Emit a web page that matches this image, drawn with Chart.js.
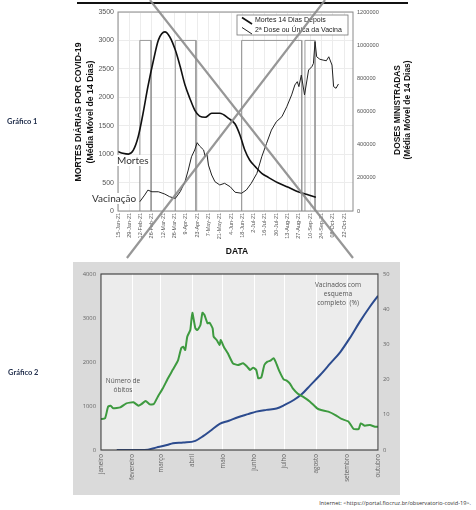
<!DOCTYPE html>
<html>
<head>
<meta charset="utf-8">
<script src="https://cdn.jsdelivr.net/npm/chart.js@4.4.1/dist/chart.umd.min.js"></script>
<style>
  body { margin: 0; background: #fff; width: 476px; height: 510px; position: relative; overflow: hidden; font-family: "Liberation Sans", Arial, sans-serif; }
  canvas { position: absolute; }
  .t { position: absolute; white-space: nowrap; }
  .rot { position: absolute; text-align: center; transform: rotate(-90deg); font-weight: bold; color: #111; }
  #topline { position: absolute; left: 77px; top: 2px; width: 331px; height: 1.5px; background: #111; }
  #panel2 { position: absolute; left: 73px; top: 262px; width: 327px; height: 233px; background: #dadada; }
  .graf { font-family: Lato, "Noto Sans", sans-serif; font-weight: bold; font-size: 7.5px; color: #1c2a48; }
  .ann { font-family: Lato, "Noto Sans", sans-serif; font-size: 10px; color: #333; background: #fff; line-height: 11px; padding: 0 1px; }
  .ann2 { font-family: "Open Sans", sans-serif; color: #555; text-align: center; }
</style>
</head>
<body>
<div id="topline"></div>
<canvas id="c1" width="476" height="262" style="left:0;top:0"></canvas>
<div class="rot" style="left:-6px;top:100px;width:180px;height:24px;font-size:8.7px;line-height:12px">MORTES DIÁRIAS POR COVID-19<br>(Média Móvel de 14 Dias)</div>
<div class="rot" style="left:337px;top:100px;width:130px;height:20px;font-size:8.4px;line-height:10px">DOSES MINISTRADAS<br>(Média Móvel de 14 Dias)</div>
<div class="t" style="left:217px;top:246px;width:40px;text-align:center;font-weight:bold;font-size:8.5px;color:#111">DATA</div>
<div class="t ann" style="left:116px;top:155px">Mortes</div>
<div class="t ann" style="left:91px;top:193px">Vacinação</div>
<div class="t graf" style="left:7px;top:117px">Gráfico 1</div>

<div id="panel2"><canvas id="c2" width="327" height="233" style="left:0;top:0"></canvas></div>
<div class="t ann2" style="left:102px;top:377px;width:42px;font-size:6.5px;line-height:8.5px">Número de<br>óbitos</div>
<div class="t ann2" style="left:308px;top:281px;width:60px;font-size:6.6px;line-height:8.8px">Vacinados com<br>esquema<br>completo&nbsp; (%)</div>
<div class="t graf" style="left:8px;top:368px">Gráfico 2</div>
<div class="t" style="right:5px;top:499px;font-family:'Open Sans',sans-serif;font-size:5.6px;color:#333">Internet: &lt;https://portal.fiocruz.br/observatorio-covid-19&gt;.</div>

<script>
// ---------- Gráfico 1 (days counted from 15-Jan-21) ----------
const dateLabels = ['15-Jan-21','29-Jan-21','12-Feb-21','26-Feb-21','12-Mar-21','26-Mar-21','9-Apr-21',
  '23-Apr-21','7-May-21','21-May-21','4-Jun-21','18-Jun-21','2-Jul-21','16-Jul-21','30-Jul-21',
  '13-Aug-21','27-Aug-21','10-Sep-21','24-Sep-21','08-Oct-21','22-Oct-21'];

const deathDays = [0,6,13,19,25,31,37,44,50,58,64,71,77,83,89,95,101,108,116,126,137,145,151,157,163,170,178,186,198,211,223,236,245];
const deathVals = [1045,1015,1000,1070,1305,1715,2185,2655,3005,3150,3065,2830,2540,2215,1980,1775,1670,1648,1718,1718,1628,1530,1337,1073,897,780,663,593,498,417,340,281,241];

const vacDays = [27,33,37,42,50,58,64,71,77,83,87,91,95,98,101,106,108,110,112,116,120,126,132,139,145,153,159,165,172,178,184,190,196,203,209,215,219,222,224,227,231,234,236,240,242,244,246,250,254,258,261,265,267,270,273];
const vacVals = [56000,96000,126000,116000,116000,102000,86000,76000,116000,177000,247000,327000,368000,412000,392000,368000,327000,348000,277000,217000,177000,157000,167000,146000,113000,107000,127000,167000,227000,327000,408000,488000,538000,569000,629000,700000,760000,780000,750000,820000,700000,790000,850000,870000,890000,1021000,930000,915000,910000,906000,930000,880000,750000,740000,766000];

const periodStart = [27, 71, 153, 231.5];
const periodEnd = [41, 96.5, 227.5, 244];
const periodTop = 3000;

// ---------- Gráfico 2 (days counted from 1 January) ----------
const monthNames = ['janeiro','fevereiro','março','abril','maio','junho','julho','agosto','setembro','outubro'];
const monthStarts = [0,31,59,90,120,151,181,212,243,273];

const obitoDays = [0,4,7,9.5,12,19,25,32,37,40,44,48,52,56,61,66,71,76,79,81,83,85,88,90,93,95,98,100,102,105,107,110,111,114,117,118,121,125,130,135,140,144,147,150,153,155,158,161,164,167,170,172,176,180,183,186,189,194,199,206,213,217,224,231,237,244,249,254,256,260,265,270,273];
const obitoVals = [705,720,985,1007,947,970,1061,1083,1007,1045,1113,1038,1045,1212,1402,1629,1833,2045,2311,2348,2273,2576,2727,3121,2765,2727,2841,3121,3068,2879,2894,2765,2576,2500,2386,2500,2348,2197,1970,1932,1970,1894,1818,1871,1818,1629,1652,1932,2008,2030,2083,2008,1780,1606,1576,1515,1400,1280,1212,1098,947,909,871,795,705,644,477,477,606,553,568,530,530];

const vacinadosDays = [15.5,43,55,65,71,81,93,101,109,117,126,135,145,153,163,173,181,190,198,206,216,226,236,245,255,265,273];
const vacinadosVals = [0,0,0.75,1.4,1.9,2.1,2.6,4.0,5.7,7.4,8.3,9.3,10.2,10.9,11.4,11.8,12.8,14.2,15.9,18.3,21.3,24.6,27.9,31.7,36.4,40.7,43.8];

const pts = (xs, ys) => xs.map((x, i) => ({ x: x, y: ys[i] }));

const rectPoints = [];
periodStart.forEach((s, i) => {
  const e = periodEnd[i];
  rectPoints.push({x: s, y: 0}, {x: s, y: periodTop}, {x: e, y: periodTop}, {x: e, y: 0}, {x: e, y: null});
});

const plain = v => String(v);

const frame1 = {
  id: 'frame1',
  afterDatasetsDraw(chart) {
    const { ctx, chartArea: a } = chart;
    ctx.save();
    ctx.strokeStyle = '#8a8a8a';
    ctx.lineWidth = 1;
    ctx.strokeRect(a.left, a.top, a.width, a.height);
    // legend box
    const bx = a.right - 116, by = a.top + 3, bw = 111, bh = 20;
    ctx.fillStyle = '#fff';
    ctx.fillRect(bx, by, bw, bh);
    ctx.strokeStyle = '#777';
    ctx.lineWidth = 0.8;
    ctx.strokeRect(bx, by, bw, bh);
    const ds = chart.data.datasets;
    ctx.font = '7px "Liberation Sans", Arial, sans-serif';
    ctx.textBaseline = 'middle';
    ctx.fillStyle = '#222';
    [0, 1].forEach(i => {
      const cy = by + 5.5 + i * 10;
      ctx.strokeStyle = ds[i].borderColor;
      ctx.lineWidth = ds[i].borderWidth;
      ctx.beginPath();
      ctx.moveTo(bx + 5, cy - 3);
      ctx.lineTo(bx + 15, cy + 3.5);
      ctx.stroke();
      ctx.fillText(ds[i].label, bx + 18, cy);
    });
    ctx.restore();
  },
  afterDraw(chart) {
    // the big gray cross over the figure
    const { ctx, chartArea: a } = chart;
    const px = f => a.left + f * a.width, py = f => a.top + f * a.height;
    ctx.save();
    ctx.strokeStyle = 'rgba(140,140,140,0.9)';
    ctx.lineWidth = 2.2;
    ctx.beginPath();
    ctx.moveTo(px(0.136), py(-0.06)); ctx.lineTo(px(1.0), py(1.236));
    ctx.moveTo(px(0.881), py(-0.06)); ctx.lineTo(px(0.038), py(1.236));
    ctx.stroke();
    ctx.restore();
  }
};

new Chart(document.getElementById('c1'), {
  type: 'line',
  data: {
    datasets: [
      { label: 'Mortes 14 Dias Depois', data: pts(deathDays, deathVals), yAxisID: 'y',
        borderColor: '#111', borderWidth: 1.6, pointRadius: 0, tension: 0.4, cubicInterpolationMode: 'monotone' },
      { label: '2ª Dose ou Única da Vacina', data: pts(vacDays, vacVals), yAxisID: 'y2',
        borderColor: '#222', borderWidth: 1, pointRadius: 0, tension: 0 },
      { label: 'periodos', data: rectPoints, yAxisID: 'y',
        borderColor: '#9a9a9a', borderWidth: 1, pointRadius: 0, tension: 0, spanGaps: false }
    ]
  },
  options: {
    responsive: false, animation: false, events: [],
    layout: { padding: { left: 88, right: 83, top: 12, bottom: 21 } },
    plugins: { legend: { display: false }, tooltip: { enabled: false } },
    scales: {
      x: {
        type: 'linear', min: 0, max: 291,
        afterBuildTicks: s => { s.ticks = dateLabels.map((_, i) => ({ value: i * 14 })); },
        afterFit: s => { s.height = 30; },
        ticks: { callback: (v, i) => dateLabels[i], autoSkip: false, maxRotation: 90, minRotation: 90,
          font: { family: 'Liberation Sans', size: 5.5 }, color: '#555', padding: 2 },
        grid: { color: '#ececec', drawTicks: false },
        border: { display: false }
      },
      y: {
        position: 'left', min: 0, max: 3500,
        afterFit: s => { s.width = 30; },
        ticks: { stepSize: 500, callback: plain, font: { family: 'Liberation Sans', size: 7 }, color: '#555', padding: 4 },
        grid: { color: '#ececec', drawTicks: false },
        border: { display: false }
      },
      y2: {
        position: 'right', min: 0, max: 1200000,
        afterFit: s => { s.width = 40; },
        ticks: { stepSize: 200000, callback: plain, font: { family: 'Liberation Sans', size: 5.6 }, color: '#555', padding: 4 },
        grid: { display: false, drawTicks: false },
        border: { display: false }
      }
    }
  },
  plugins: [frame1]
});

const frame2 = {
  id: 'frame2',
  beforeDraw(chart) {
    const { ctx, chartArea: a } = chart;
    ctx.save();
    ctx.fillStyle = '#ececec';
    ctx.fillRect(a.left, a.top, a.width, a.height);
    ctx.restore();
  },
  afterDraw(chart) {
    const { ctx, chartArea: a } = chart;
    ctx.save();
    ctx.strokeStyle = '#3a3a3a';
    ctx.lineWidth = 1.1;
    ctx.strokeRect(a.left, a.top, a.width, a.height);
    ctx.restore();
  }
};

new Chart(document.getElementById('c2'), {
  type: 'line',
  data: {
    datasets: [
      { label: 'Número de óbitos', data: pts(obitoDays, obitoVals), yAxisID: 'y',
        borderColor: '#3d9a3f', borderWidth: 2, pointRadius: 0, tension: 0.15 },
      { label: 'Vacinados com esquema completo (%)', data: pts(vacinadosDays, vacinadosVals), yAxisID: 'y2',
        borderColor: '#2c4b8e', borderWidth: 2, pointRadius: 0, tension: 0.3, cubicInterpolationMode: 'monotone' }
    ]
  },
  options: {
    responsive: false, animation: false, events: [],
    layout: { padding: { left: 4, right: 4, top: 12, bottom: 5 } },
    plugins: { legend: { display: false }, tooltip: { enabled: false } },
    scales: {
      x: {
        type: 'linear', min: 0, max: 273,
        afterBuildTicks: s => { s.ticks = monthStarts.map(v => ({ value: v })); },
        afterFit: s => { s.height = 40; },
        ticks: { callback: (v, i) => monthNames[i], autoSkip: false, maxRotation: 90, minRotation: 90,
          font: { family: 'Open Sans', size: 6.2 }, color: '#666', padding: 4 },
        grid: { color: '#ffffff', lineWidth: 1, drawTicks: false },
        border: { display: false }
      },
      y: {
        position: 'left', min: 0, max: 4000,
        afterFit: s => { s.width = 24; },
        ticks: { stepSize: 1000, callback: plain, font: { family: 'Open Sans', size: 5.8 }, color: '#666', padding: 5 },
        grid: { display: false, drawTicks: false },
        border: { display: false }
      },
      y2: {
        position: 'right', min: 0, max: 50,
        afterFit: s => { s.width = 18; },
        ticks: { stepSize: 10, callback: plain, font: { family: 'Open Sans', size: 5.8 }, color: '#666', padding: 5 },
        grid: { display: false, drawTicks: false },
        border: { display: false }
      }
    }
  },
  plugins: [frame2]
});
</script>
</body>
</html>
